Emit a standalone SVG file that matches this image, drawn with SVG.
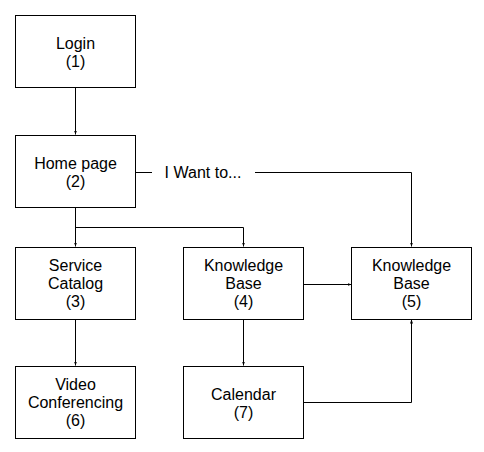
<svg xmlns="http://www.w3.org/2000/svg" width="484" height="452" viewBox="0 0 484 452">
<style>
.box{fill:#fff;stroke:#000;stroke-width:1}
.t{font-family:"Liberation Sans",Arial,sans-serif;font-size:16px;fill:#000;text-anchor:middle}
.c{fill:none;stroke:#000;stroke-width:1}
</style>
<defs>
<marker id="ah" viewBox="0 0 8 6" refX="8" refY="3" markerWidth="4" markerHeight="3" orient="auto" markerUnits="userSpaceOnUse">
<path d="M0,0 L8,3 L0,6 Z" fill="#000"/>
</marker>
</defs>
<rect width="484" height="452" fill="#fff"/>
<g id="connectors">
<path class="c" d="M75.5,87.5 V134.5" marker-end="url(#ah)"/>
<path class="c" d="M75.5,207.5 V246.5" marker-end="url(#ah)"/>
<path class="c" d="M75.5,227.5 H243.5 V246.5" marker-end="url(#ah)"/>
<path class="c" d="M136,172.5 H152"/>
<path class="c" d="M255,172.5 H411.5 V246.5" marker-end="url(#ah)"/>
<path class="c" d="M303,284.5 H351.5" marker-end="url(#ah)"/>
<path class="c" d="M75.5,319.5 V365.5" marker-end="url(#ah)"/>
<path class="c" d="M243.5,319.5 V365.5" marker-end="url(#ah)"/>
<path class="c" d="M303,402.5 H411.5 V319.5" marker-end="url(#ah)"/>
<text class="t" x="203" y="178">I Want to...</text>
</g>
<g id="n1"><rect class="box" x="15.5" y="15.5" width="120" height="72"/><text class="t" x="75.5" y="48.5">Login</text><text class="t" x="75.5" y="66.5">(1)</text></g>
<g id="n2"><rect class="box" x="15.5" y="135.5" width="120" height="72"/><text class="t" x="75.5" y="168.5">Home page</text><text class="t" x="75.5" y="186.5">(2)</text></g>
<g id="n3"><rect class="box" x="15.5" y="247.5" width="120" height="72"/><text class="t" x="75.5" y="270.5">Service</text><text class="t" x="75.5" y="288.5">Catalog</text><text class="t" x="75.5" y="306.5">(3)</text></g>
<g id="n4"><rect class="box" x="183.5" y="247.5" width="120" height="72"/><text class="t" x="243.5" y="270.5">Knowledge</text><text class="t" x="243.5" y="288.5">Base</text><text class="t" x="243.5" y="306.5">(4)</text></g>
<g id="n5"><rect class="box" x="351.5" y="247.5" width="120" height="72"/><text class="t" x="411.5" y="270.5">Knowledge</text><text class="t" x="411.5" y="288.5">Base</text><text class="t" x="411.5" y="306.5">(5)</text></g>
<g id="n6"><rect class="box" x="15.5" y="366.5" width="120" height="72"/><text class="t" x="75.5" y="389.5">Video</text><text class="t" x="75.5" y="407.5">Conferencing</text><text class="t" x="75.5" y="425.5">(6)</text></g>
<g id="n7"><rect class="box" x="183.5" y="366.5" width="120" height="72"/><text class="t" x="243.5" y="399.5">Calendar</text><text class="t" x="243.5" y="417.5">(7)</text></g>
</svg>
